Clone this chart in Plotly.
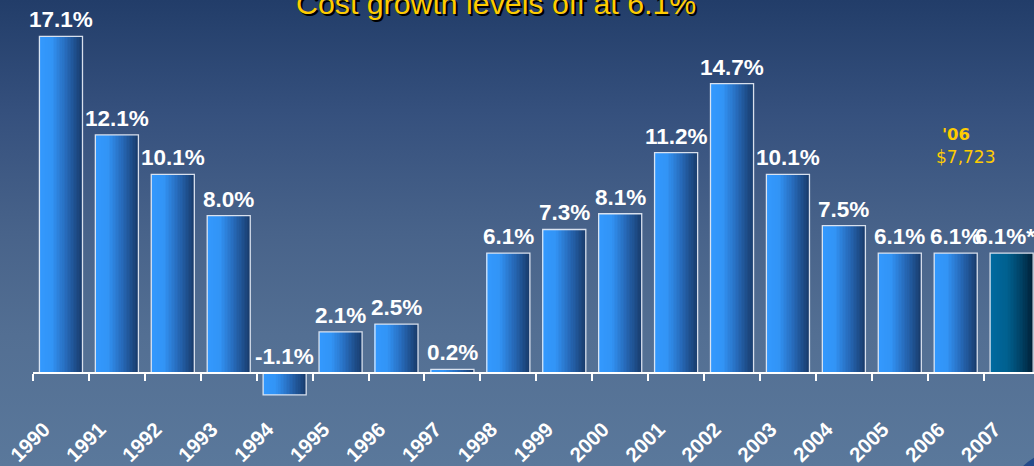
import base64
import plotly.graph_objects as go

# Annual cost growth (%) by year
years = ["1990", "1991", "1992", "1993", "1994", "1995", "1996", "1997", "1998",
         "1999", "2000", "2001", "2002", "2003", "2004", "2005", "2006", "2007"]
growth = [17.1, 12.1, 10.1, 8.0, -1.1, 2.1, 2.5, 0.2, 6.1,
          7.3, 8.1, 11.2, 14.7, 10.1, 7.5, 6.1, 6.1, 6.1]
labels = ["17.1%", "12.1%", "10.1%", "8.0%", "-1.1%", "2.1%", "2.5%", "0.2%", "6.1%",
          "7.3%", "8.1%", "11.2%", "14.7%", "10.1%", "7.5%", "6.1%", "6.1%", "6.1%*"]
projected = [False] * 17 + [True]

title_text = "Cost growth levels off at 6.1%"
note_year = "'06"
note_value = "$7,723"
note_at = "2006"

W, H = 1034, 466
ML = 33
PLOT_W = W - ML

BAR_W = 0.77
N_SLICES = 28


def hex_rgb(h):
    h = h.lstrip("#")
    return tuple(int(h[i:i + 2], 16) for i in (0, 2, 4))


def ramp(stops, t):
    for (t0, c0), (t1, c1) in zip(stops, stops[1:]):
        if t <= t1:
            f = (t - t0) / (t1 - t0) if t1 > t0 else 0
            a, b = hex_rgb(c0), hex_rgb(c1)
            return "rgb(%d,%d,%d)" % tuple(round(a[i] + (b[i] - a[i]) * f) for i in range(3))
    return "rgb(%d,%d,%d)" % hex_rgb(stops[-1][1])


actual_ramp = [(0.0, "#3399ff"), (0.3, "#3294f6"), (0.62, "#276bbb"), (1.0, "#183b6b")]
projected_ramp = [(0.0, "#006aa1"), (0.4, "#00608f"), (0.75, "#003f62"), (1.0, "#001f35")]

fig = go.Figure()

# each bar is filled with thin vertical slices to give a left-to-right shading
slice_w = BAR_W / N_SLICES
for k in range(N_SLICES):
    t = (k + 0.5) / N_SLICES
    colors = [ramp(projected_ramp if p else actual_ramp, t) for p in projected]
    fig.add_trace(go.Bar(
        x=years, y=growth,
        offset=-BAR_W / 2 + k * slice_w,
        width=slice_w * 1.08,
        marker=dict(color=colors, line=dict(width=0)),
        hoverinfo="skip", showlegend=False,
    ))

# bar outlines
fig.add_trace(go.Bar(
    x=years, y=growth, offset=-BAR_W / 2, width=BAR_W,
    marker=dict(color="rgba(0,0,0,0)", line=dict(color="rgba(225,232,242,0.95)", width=1.3)),
    hovertemplate="%{x}: %{y}%<extra></extra>", showlegend=False,
))

# value labels sit above each bar (or above the baseline for negatives);
# category positions are given by index; the projected label is nudged
# left so its asterisk stays on the page
for i, (v, lab, p) in enumerate(zip(growth, labels, projected)):
    fig.add_annotation(
        x=i, y=max(v, 0), text=lab, showarrow=False,
        xanchor="center", yanchor="bottom", yshift=2, xshift=-7 if p else 0,
        font=dict(family="Arial, Liberation Sans", size=22.5, color="white", weight="bold"),
    )

note_i = years.index(note_at)
fig.add_annotation(
    x=note_i, y=12.1, text=note_year, showarrow=False,
    xanchor="center", yanchor="middle",
    font=dict(family="DejaVu Sans", size=16.5, color="#ffcc00", weight="bold"),
)
fig.add_annotation(
    x=note_i, y=11.0, text=note_value, showarrow=False,
    xanchor="center", yanchor="middle", xshift=10,
    font=dict(family="DejaVu Sans", size=17, color="#ffcc00"),
)

fig.add_annotation(
    xref="paper", yref="paper", x=0.463, y=1.0, text=title_text, showarrow=False,
    xanchor="center", yanchor="middle", yshift=-3,
    font=dict(family="Arial, Liberation Sans", size=30.3, color="#ffcc00",
              shadow="2px 2px 0px #000000"),
)

# background: vertical navy-to-slate gradient
svg = (
    '<svg xmlns="http://www.w3.org/2000/svg" width="100" height="466" preserveAspectRatio="none">'
    '<defs><linearGradient id="g" x1="0" y1="0" x2="0" y2="1">'
    '<stop offset="0" stop-color="#223d69"/>'
    '<stop offset="0.25" stop-color="#36517e"/>'
    '<stop offset="0.5" stop-color="#48638a"/>'
    '<stop offset="0.72" stop-color="#536f93"/>'
    '<stop offset="1" stop-color="#5a789b"/>'
    '</linearGradient></defs>'
    '<rect width="100" height="466" fill="url(#g)"/></svg>'
)
bg_src = "data:image/svg+xml;base64," + base64.b64encode(svg.encode()).decode()
fig.add_layout_image(
    source=bg_src, xref="paper", yref="paper",
    x=-ML / PLOT_W, y=1, sizex=W / PLOT_W, sizey=1,
    xanchor="left", yanchor="top", sizing="stretch", layer="below",
)

# corner emblem edge
fig.add_shape(
    type="circle", xref="paper", yref="paper",
    x0=(1007 - ML) / PLOT_W, x1=(1117 - ML) / PLOT_W,
    y0=(H - 560) / H, y1=(H - 450) / H,
    fillcolor="#244a8a", line=dict(width=0), layer="above",
)

Y_TOP, Y_BOTTOM = 18.95, -4.706
zero_pos = -Y_BOTTOM / (Y_TOP - Y_BOTTOM)

fig.update_layout(
    width=W, height=H,
    margin=dict(l=ML, r=0, t=0, b=0),
    barmode="overlay",
    paper_bgcolor="#3f5a83",
    plot_bgcolor="rgba(0,0,0,0)",
    xaxis=dict(
        type="category", range=[-0.5, 17.4],
        anchor="free", position=zero_pos,
        showline=True, linecolor="white", linewidth=2,
        ticks="outside", tickson="boundaries", ticklen=7, tickwidth=1.5, tickcolor="white",
        tickangle=-45, ticklabelstandoff=35, ticklabelshift=-17,
        tickfont=dict(family="Arial, Liberation Sans", size=20.5, color="white", weight="bold"),
        showgrid=False, automargin=False, fixedrange=True,
    ),
    yaxis=dict(range=[Y_BOTTOM, Y_TOP], visible=False, showgrid=False,
               zeroline=False, fixedrange=True),
    showlegend=False,
)

fig.write_html("out.html")
